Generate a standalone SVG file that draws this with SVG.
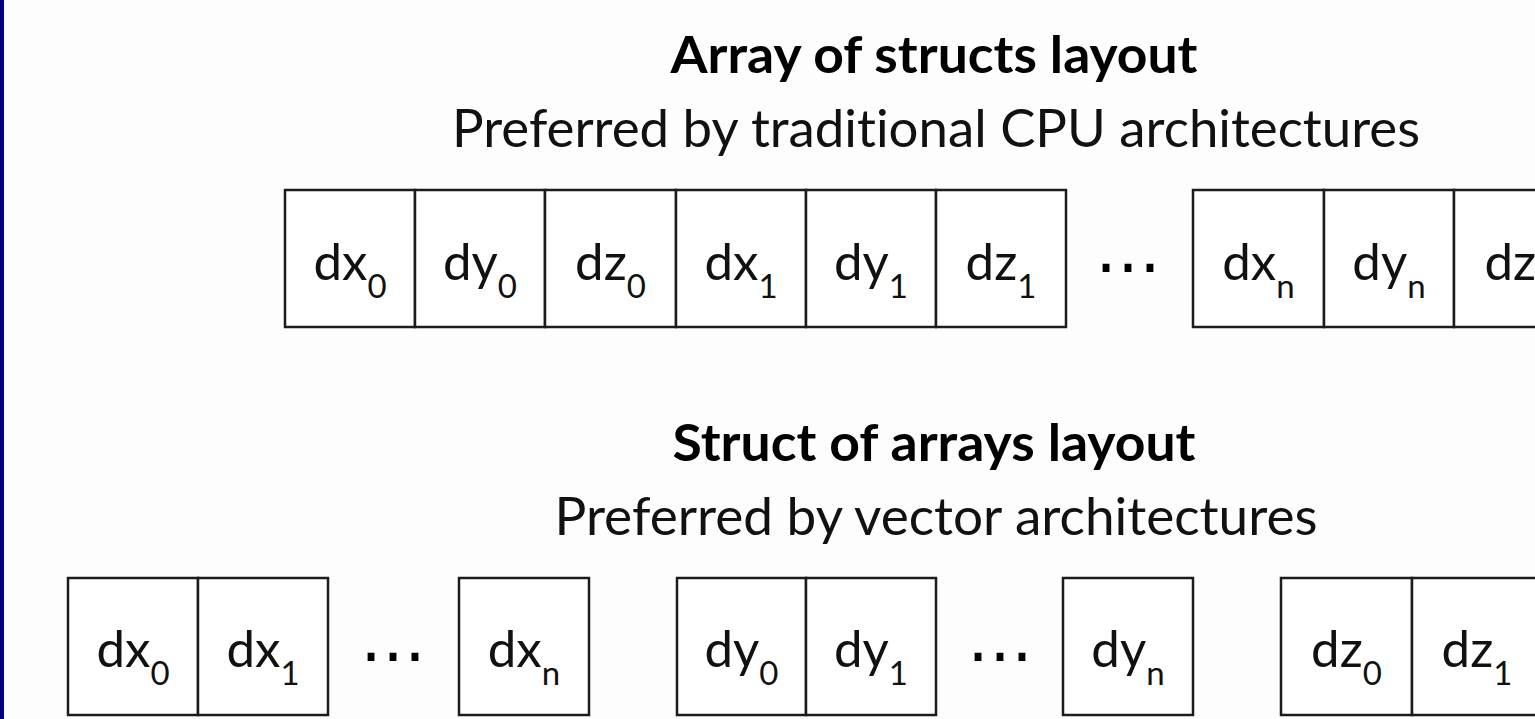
<svg xmlns="http://www.w3.org/2000/svg" width="1535" height="719" viewBox="0 0 1535 719">
<style>
text{font-variant-ligatures:none;font-feature-settings:"liga" 0,"clig" 0}
.bg{fill:#fdfdfd}
.cell{fill:#ffffff;stroke:#1c1c1c;stroke-width:2.5}
.t{font-family:Lato,"Liberation Sans",sans-serif;fill:#111;font-size:51px;text-anchor:middle}
.sub{font-size:33px}
.title{font-family:Lato,"Liberation Sans",sans-serif;fill:#000;font-size:52px;font-weight:bold;text-anchor:middle}
.subtitle{font-family:Lato,"Liberation Sans",sans-serif;fill:#111;font-size:52px;text-anchor:middle}
.dots{font-family:"DejaVu Sans",sans-serif;fill:#000;font-size:66px;text-anchor:middle}
</style>
<rect class="bg" x="0" y="0" width="1535" height="719"/>
<rect x="0" y="0" width="4" height="719" fill="#000080"/>

<g id="titles">
<text class="title" x="934" y="73" textLength="527" lengthAdjust="spacingAndGlyphs">Array of structs layout</text>
<text class="subtitle" x="936" y="147" textLength="968" lengthAdjust="spacingAndGlyphs">Preferred by traditional CPU architectures</text>
<text class="title" x="934" y="461" textLength="523" lengthAdjust="spacingAndGlyphs">Struct of arrays layout</text>
<text class="subtitle" x="936" y="535" textLength="763" lengthAdjust="spacingAndGlyphs">Preferred by vector architectures</text>
</g>

<g id="connectors"></g>

<!-- Array of structs row -->
<g id="aos-dx0"><rect class="cell" x="285" y="190" width="130" height="137"/><text class="t" x="350" y="280">dx<tspan class="sub" dy="18">0</tspan></text></g>
<g id="aos-dy0"><rect class="cell" x="415" y="190" width="130" height="137"/><text class="t" x="480" y="280">dy<tspan class="sub" dy="18">0</tspan></text></g>
<g id="aos-dz0"><rect class="cell" x="545" y="190" width="131" height="137"/><text class="t" x="610.5" y="280">dz<tspan class="sub" dy="18">0</tspan></text></g>
<g id="aos-dx1"><rect class="cell" x="676" y="190" width="130" height="137"/><text class="t" x="741" y="280">dx<tspan class="sub" dy="18">1</tspan></text></g>
<g id="aos-dy1"><rect class="cell" x="806" y="190" width="130" height="137"/><text class="t" x="871" y="280">dy<tspan class="sub" dy="18">1</tspan></text></g>
<g id="aos-dz1"><rect class="cell" x="936" y="190" width="130" height="137"/><text class="t" x="1001" y="280">dz<tspan class="sub" dy="18">1</tspan></text></g>
<g id="aos-dots"><text class="dots" x="1128" y="272">…</text></g>
<g id="aos-dxn"><rect class="cell" x="1193" y="190" width="131" height="137"/><text class="t" x="1258.5" y="280">dx<tspan class="sub" dy="18">n</tspan></text></g>
<g id="aos-dyn"><rect class="cell" x="1324" y="190" width="130" height="137"/><text class="t" x="1389" y="280">dy<tspan class="sub" dy="18">n</tspan></text></g>
<g id="aos-dzn"><rect class="cell" x="1454" y="190" width="131" height="137"/><text class="t" x="1519.5" y="280">dz<tspan class="sub" dy="18">n</tspan></text></g>

<!-- Struct of arrays row -->
<g id="soa-dx0"><rect class="cell" x="68" y="578" width="130" height="137"/><text class="t" x="133" y="667">dx<tspan class="sub" dy="18">0</tspan></text></g>
<g id="soa-dx1"><rect class="cell" x="198" y="578" width="130" height="137"/><text class="t" x="263" y="667">dx<tspan class="sub" dy="18">1</tspan></text></g>
<g id="soa-dots1"><text class="dots" x="393" y="661">…</text></g>
<g id="soa-dxn"><rect class="cell" x="459" y="578" width="130" height="137"/><text class="t" x="524" y="667">dx<tspan class="sub" dy="18">n</tspan></text></g>
<g id="soa-dy0"><rect class="cell" x="677" y="578" width="129" height="137"/><text class="t" x="741.5" y="667">dy<tspan class="sub" dy="18">0</tspan></text></g>
<g id="soa-dy1"><rect class="cell" x="806" y="578" width="130" height="137"/><text class="t" x="871" y="667">dy<tspan class="sub" dy="18">1</tspan></text></g>
<g id="soa-dots2"><text class="dots" x="1000" y="661">…</text></g>
<g id="soa-dyn"><rect class="cell" x="1063" y="578" width="130" height="137"/><text class="t" x="1128" y="667">dy<tspan class="sub" dy="18">n</tspan></text></g>
<g id="soa-dz0"><rect class="cell" x="1281" y="578" width="131" height="137"/><text class="t" x="1346.5" y="667">dz<tspan class="sub" dy="18">0</tspan></text></g>
<g id="soa-dz1"><rect class="cell" x="1412" y="578" width="130" height="137"/><text class="t" x="1477" y="667">dz<tspan class="sub" dy="18">1</tspan></text></g>
</svg>
